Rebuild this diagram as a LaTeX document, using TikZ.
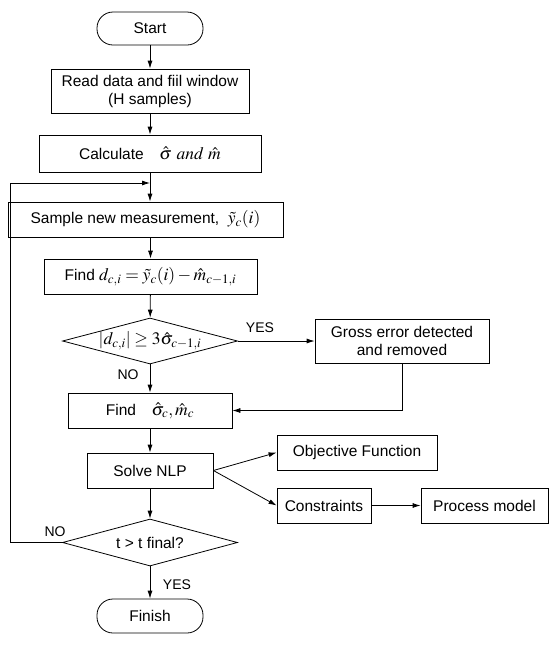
\documentclass[tikz,border=0pt]{standalone}
\usepackage{mathptmx}
\usepackage{fontspec}
\setmainfont{Liberation Sans}
\usetikzlibrary{shapes.geometric,arrows.meta}
\newcommand{\mymath}[1]{{\fontsize{17.5}{19}\selectfont$#1$}}
\begin{document}
\begin{tikzpicture}[x=1pt,y=-1pt,
  box/.style={draw, line width=0.8pt, inner sep=0pt, align=center, font=\fontsize{15.5}{18}\selectfont},
  pill/.style={box, rounded corners=16pt},
  dec/.style={draw, diamond, aspect=3.8, line width=0.8pt, inner sep=0pt, font=\fontsize{15.5}{18}\selectfont},
  arr/.style={-{Latex[length=8pt,width=5pt]}, line width=0.8pt},
  lbl/.style={font=\fontsize{14}{16}\selectfont, inner sep=0pt}]
\useasboundingbox (0,0) rectangle (558,646);
\node[pill, minimum width=106pt, minimum height=33pt] (start) at (150,28.5) {Start};
\node[box, minimum width=198pt, minimum height=44pt] (read) at (150,91) {Read data and fiil window\\(H samples)};
\node[box, minimum width=222pt, minimum height=37pt] (calc) at (150,153.5) {Calculate\quad\mymath{\hat{\sigma}\ \mathit{and}\ \hat{m}}};
\node[box, minimum width=275pt, minimum height=35pt] (sample) at (145.5,219.5) {Sample new measurement,\ \ \mymath{\tilde{y}_c(i)}};
\node[box, minimum width=213pt, minimum height=35pt] (findd) at (150.5,276.5) {Find \mymath{d_{c,i}=\tilde{y}_c(i)-\hat{m}_{c-1,i}}};
\node[dec, minimum width=175pt, minimum height=46pt] (dec1) at (150,341) {\mymath{|d_{c,i}|\geq 3\hat{\sigma}_{c-1,i}}};
\node[box, minimum width=174pt, minimum height=44pt] (gross) at (402,341) {Gross error detected\\and removed};
\node[box, minimum width=164pt, minimum height=35pt] (finds) at (150,410.5) {Find\quad\mymath{\hat{\sigma}_c,\hat{m}_c}};
\node[box, minimum width=126pt, minimum height=35pt] (solve) at (150,470.5) {Solve NLP};
\node[box, minimum width=160pt, minimum height=35pt] (obj) at (357,452.5) {Objective Function};
\node[box, minimum width=94pt, minimum height=35pt] (cons) at (324,505.5) {Constraints};
\node[box, minimum width=127pt, minimum height=35pt] (proc) at (484.5,505.5) {Process model};
\node[dec, minimum width=175pt, minimum height=47pt] (dec2) at (150,542.5) {t > t final?};
\node[pill, minimum width=106pt, minimum height=34pt] (finish) at (150,616) {Finish};
\coordinate (lp) at (150,183);
\coordinate (lc) at (10,183);
\draw[arr] (start) -- (read);
\draw[arr] (read) -- (calc);
\draw[line width=0.8pt] (calc.south) -- (lp);
\draw[arr] (lp) -- (lp |- sample.north);
\draw[arr] (dec2.west) -| (lc) -- (lp);
\draw[arr] (sample.south -| findd.north) -- (findd.north);
\draw[arr] (findd) -- (dec1);
\draw[arr] (dec1.east) -- (gross.west);
\node[lbl] at (260,328) {YES};
\draw[arr] (gross.south) |- (finds.east);
\draw[arr] (dec1.south) -- (finds.north);
\node[lbl] at (128,375) {NO};
\draw[arr] (finds) -- (solve);
\draw[arr] (solve.east) -- (obj.west);
\draw[arr] (solve.east) -- (cons.west);
\draw[arr] (cons) -- (proc);
\draw[arr] (solve) -- (dec2);
\draw[arr] (dec2) -- (finish);
\node[lbl] at (55,532) {NO};
\node[lbl] at (177,585) {YES};
\end{tikzpicture}
\end{document}
